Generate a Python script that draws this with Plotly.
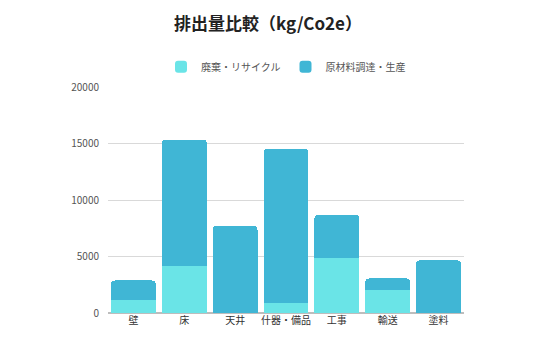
import plotly.graph_objects as go

categories = ["壁", "床", "天井", "什器・備品", "工事", "輸送", "塗料"]
recycle = [1190, 4180, 0, 870, 4840, 2020, 0]
material = [1690, 11170, 7730, 13670, 3870, 1040, 4660]
series_names = ["廃棄・リサイクル", "原材料調達・生産"]
y_ticks = [0, 5000, 10000, 15000, 20000]

light = "#6AE4E7"
dark = "#40B6D5"

fig = go.Figure()
fig.add_trace(go.Bar(x=categories, y=recycle, name=series_names[0],
                     marker=dict(color=light, line=dict(width=0))))
fig.add_trace(go.Bar(x=categories, y=material, name=series_names[1],
                     marker=dict(color=dark, line=dict(width=0))))

font_family = "Noto Sans CJK JP, Open Sans, sans-serif"

fig.update_layout(
    width=536, height=338,
    barmode="stack",
    bargap=0.12,
    barcornerradius=4,
    plot_bgcolor="white",
    paper_bgcolor="white",
    margin=dict(l=108, r=72, t=87, b=25),
    title=dict(text="<b>排出量比較（kg/Co2e）</b>", x=0.5, xanchor="center",
               y=0.93, yanchor="middle",
               font=dict(family=font_family, size=17, color="#222222")),
    legend=dict(orientation="h", x=0.5, xanchor="center", y=1.09, yanchor="middle",
                font=dict(family=font_family, size=10, color="#555555"),
                itemwidth=30, traceorder="normal"),
    font=dict(family=font_family),
)
fig.update_yaxes(range=[0, 20000], tickvals=y_ticks, ticktext=[str(v) for v in y_ticks],
                 showgrid=True, gridcolor="#D9D9D9", gridwidth=1,
                 zeroline=True, zerolinecolor="#BDBDBD", zerolinewidth=2,
                 tickfont=dict(family=font_family, size=10, color="#555555"),
                 ticks="", ticklabelstandoff=8)
fig.update_xaxes(showgrid=False, ticks="",
                 tickfont=dict(family=font_family, size=10, color="#333333"))

fig.write_html("out.html")
